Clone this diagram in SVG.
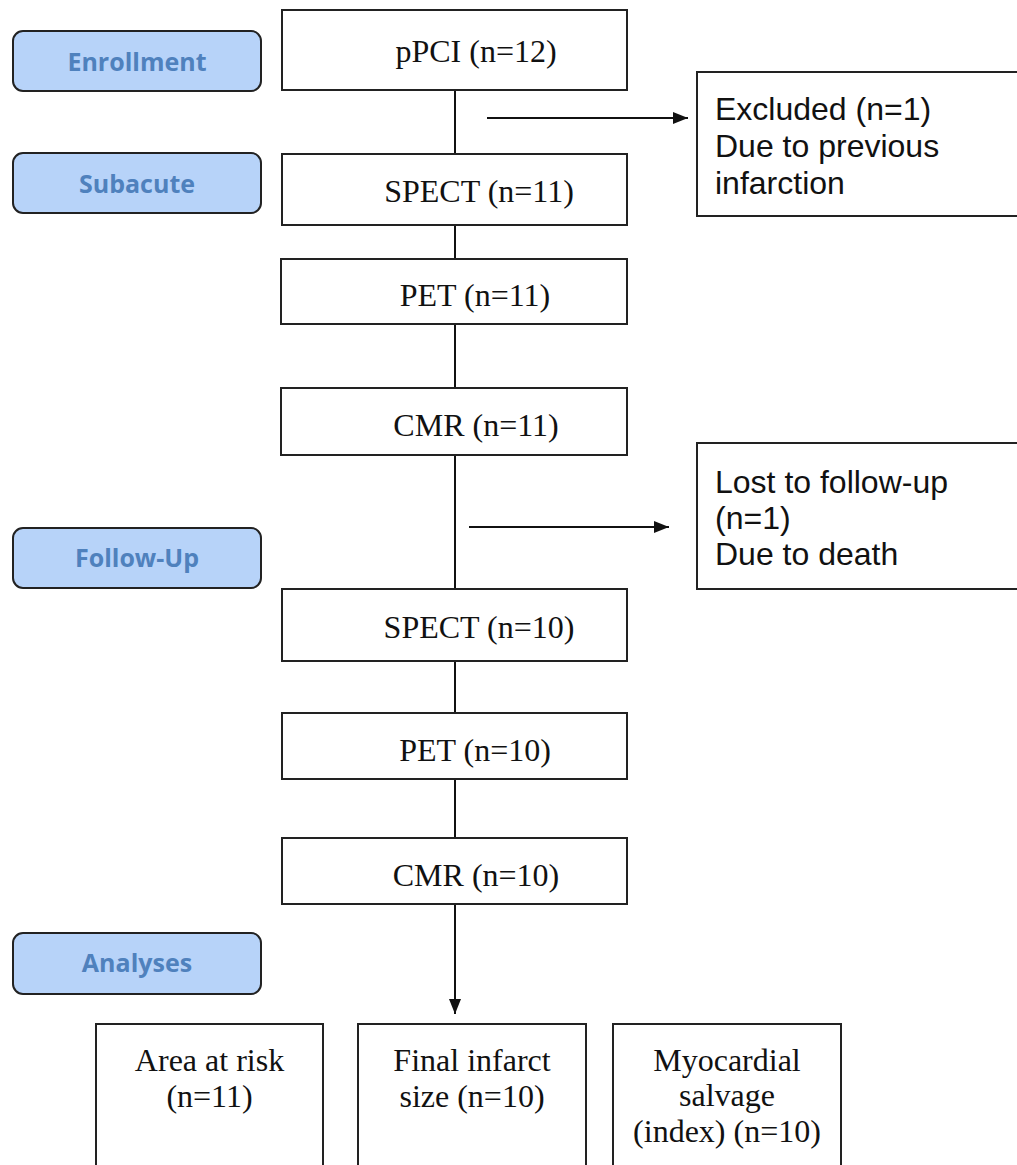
<svg xmlns="http://www.w3.org/2000/svg" width="1017" height="1165" viewBox="0 0 1017 1165">
<style>
.phase{fill:#b7d3f9;stroke:#222;stroke-width:2}
.ptext{font-family:"Open Sans","Noto Sans",sans-serif;font-weight:bold;font-size:25px;fill:#4f81bd;text-anchor:middle}
.box{fill:#fff;stroke:#222;stroke-width:2}
.serif{font-family:"Liberation Serif","Times New Roman",serif;font-size:32px;fill:#111;text-anchor:middle}
.sans{font-family:"Liberation Sans",Arial,sans-serif;font-size:32px;fill:#111}
.line{stroke:#111;stroke-width:2;fill:none}
</style>
<defs>
<marker id="ah" viewBox="0 0 15 12" refX="15" refY="6" markerWidth="15" markerHeight="12" markerUnits="userSpaceOnUse" orient="auto">
<path d="M0,0 L15,6 L0,12 Z" fill="#111"/>
</marker>
</defs>
<rect width="1017" height="1165" fill="#fff"/>
<g id="phase-enrollment"><rect class="phase" x="13" y="31" width="248" height="60" rx="10"/><text class="ptext" x="137" y="71">Enrollment</text></g>
<g id="phase-subacute"><rect class="phase" x="13" y="153" width="248" height="60" rx="10"/><text class="ptext" x="137" y="193">Subacute</text></g>
<g id="phase-followup"><rect class="phase" x="13" y="528" width="248" height="60" rx="10"/><text class="ptext" x="137" y="567">Follow-Up</text></g>
<g id="phase-analyses"><rect class="phase" x="13" y="933" width="248" height="61" rx="10"/><text class="ptext" x="137" y="972">Analyses</text></g>
<g id="connectors">
<line class="line" x1="455" y1="90" x2="455" y2="154"/>
<line class="line" x1="455" y1="225" x2="455" y2="259"/>
<line class="line" x1="455" y1="324" x2="455" y2="388"/>
<line class="line" x1="455" y1="455" x2="455" y2="589"/>
<line class="line" x1="455" y1="661" x2="455" y2="713"/>
<line class="line" x1="455" y1="779" x2="455" y2="838"/>
<line class="line" x1="455" y1="904" x2="455" y2="1014" marker-end="url(#ah)"/>
<line class="line" x1="487" y1="118" x2="688" y2="118" marker-end="url(#ah)"/>
<line class="line" x1="469" y1="527" x2="669" y2="527" marker-end="url(#ah)"/>
</g>
<g id="n-ppci"><rect class="box" x="282" y="10" width="345" height="80"/><text class="serif" x="476" y="62">pPCI (n=12)</text></g>
<g id="n-spect11"><rect class="box" x="282" y="154" width="345" height="71"/><text class="serif" x="479" y="202">SPECT (n=11)</text></g>
<g id="n-pet11"><rect class="box" x="281" y="259" width="346" height="65"/><text class="serif" x="475" y="306">PET (n=11)</text></g>
<g id="n-cmr11"><rect class="box" x="281" y="388" width="346" height="67"/><text class="serif" x="476" y="436">CMR (n=11)</text></g>
<g id="n-spect10"><rect class="box" x="282" y="589" width="345" height="72"/><text class="serif" x="479" y="638">SPECT (n=10)</text></g>
<g id="n-pet10"><rect class="box" x="282" y="713" width="345" height="66"/><text class="serif" x="475" y="761">PET (n=10)</text></g>
<g id="n-cmr10"><rect class="box" x="282" y="838" width="345" height="66"/><text class="serif" x="476" y="886">CMR (n=10)</text></g>
<g id="n-excluded"><rect class="box" x="697" y="72" width="330" height="144"/>
<text class="sans" x="715" y="120">Excluded (n=1)</text>
<text class="sans" x="715" y="157">Due to previous</text>
<text class="sans" x="715" y="194">infarction</text></g>
<g id="n-lost"><rect class="box" x="697" y="443" width="330" height="146"/>
<text class="sans" x="715" y="493">Lost to follow-up</text>
<text class="sans" x="715" y="529">(n=1)</text>
<text class="sans" x="715" y="565">Due to death</text></g>
<g id="n-area"><rect class="box" x="96" y="1024" width="227" height="160"/>
<text class="serif" x="209.5" y="1071">Area at risk</text>
<text class="serif" x="209.5" y="1107">(n=11)</text></g>
<g id="n-final"><rect class="box" x="358" y="1024" width="228" height="160"/>
<text class="serif" x="472" y="1071">Final infarct</text>
<text class="serif" x="472" y="1107">size (n=10)</text></g>
<g id="n-salvage"><rect class="box" x="613" y="1024" width="228" height="160"/>
<text class="serif" x="727" y="1071">Myocardial</text>
<text class="serif" x="727" y="1106">salvage</text>
<text class="serif" x="727" y="1142">(index) (n=10)</text></g>
</svg>
